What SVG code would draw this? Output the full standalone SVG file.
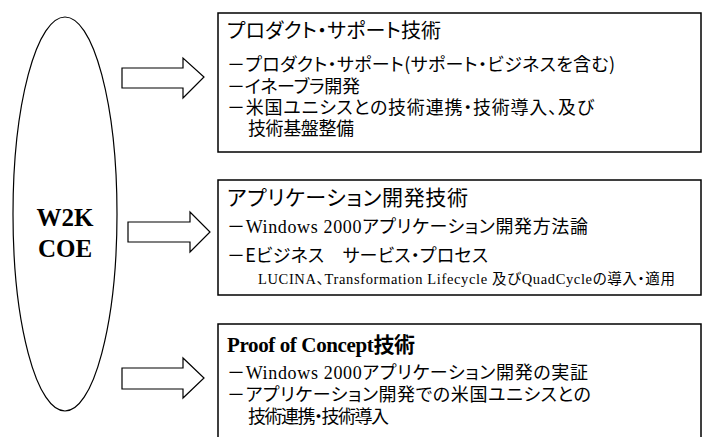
<svg xmlns="http://www.w3.org/2000/svg" width="702" height="437" viewBox="0 0 702 437">
<style>
.box{fill:#fff;stroke:#000;stroke-width:1.5}
.arr{fill:#fff;stroke:#000;stroke-width:1.2;stroke-linejoin:miter}
.jp{font-family:"Noto Sans CJK JP",sans-serif;fill:#000;font-feature-settings:"palt"}
.sr{font-family:"Liberation Serif","Noto Sans CJK JP",serif;fill:#000;font-feature-settings:"palt"}
.b{font-size:18px}
</style>
<rect width="702" height="437" fill="#fff"/>
<g id="coe">
<ellipse cx="65" cy="214" rx="52" ry="197" fill="#fff" stroke="#000" stroke-width="1.2"/>
<text class="sr" x="65" y="226" font-size="25" font-weight="bold" text-anchor="middle">W2K</text>
<text class="sr" x="65" y="257" font-size="25" font-weight="bold" text-anchor="middle">COE</text>
</g>
<g id="connectors">
<polygon class="arr" points="122,68 183,68 183,58 204,77 183,98 183,88 122,88"/>
<polygon class="arr" points="128,222 190,222 190,212 210,232 190,252 190,242 128,242"/>
<polygon class="arr" points="122,368 183,368 183,358 204,378 183,398 183,389 122,389"/>
</g>
<g id="product">
<rect class="box" x="218" y="13" width="483" height="139"/>
<text class="jp" x="227" y="38" font-size="20" textLength="214">プロダクト・サポート技術</text>
<text class="jp b" x="227" y="71" textLength="388">－プロダクト・サポート(サポート・ビジネスを含む)</text>
<text class="jp b" x="227" y="93" textLength="133">－イネーブラ開発</text>
<text class="jp b" x="227" y="114" textLength="367">－米国ユニシスとの技術連携・技術導入、及び</text>
<text class="jp b" x="248" y="135" textLength="106">技術基盤整備</text>
</g>
<g id="appdev">
<rect class="box" x="218" y="180" width="483" height="115"/>
<text class="jp" x="227" y="205" font-size="21" textLength="241">アプリケーション開発技術</text>
<text class="sr b" x="227" y="233" textLength="361">－Windows 2000アプリケーション開発方法論</text>
<text class="jp b" x="227" y="262" textLength="261">－Eビジネス　サービス・プロセス</text>
<text class="sr" x="258" y="284" font-size="14.5" textLength="417">LUCINA、Transformation Lifecycle 及びQuadCycleの導入・適用</text>
</g>
<g id="poc">
<rect class="box" x="218" y="324" width="483" height="130"/>
<text class="sr" x="227" y="352" font-size="21" font-weight="bold" textLength="188">Proof of Concept技術</text>
<text class="sr b" x="227" y="379" textLength="361">－Windows 2000アプリケーション開発の実証</text>
<text class="jp b" x="227" y="401" textLength="364">－アプリケーション開発での米国ユニシスとの</text>
<text class="jp b" x="248" y="423" textLength="141">技術連携・技術導入</text>
</g>
</svg>
